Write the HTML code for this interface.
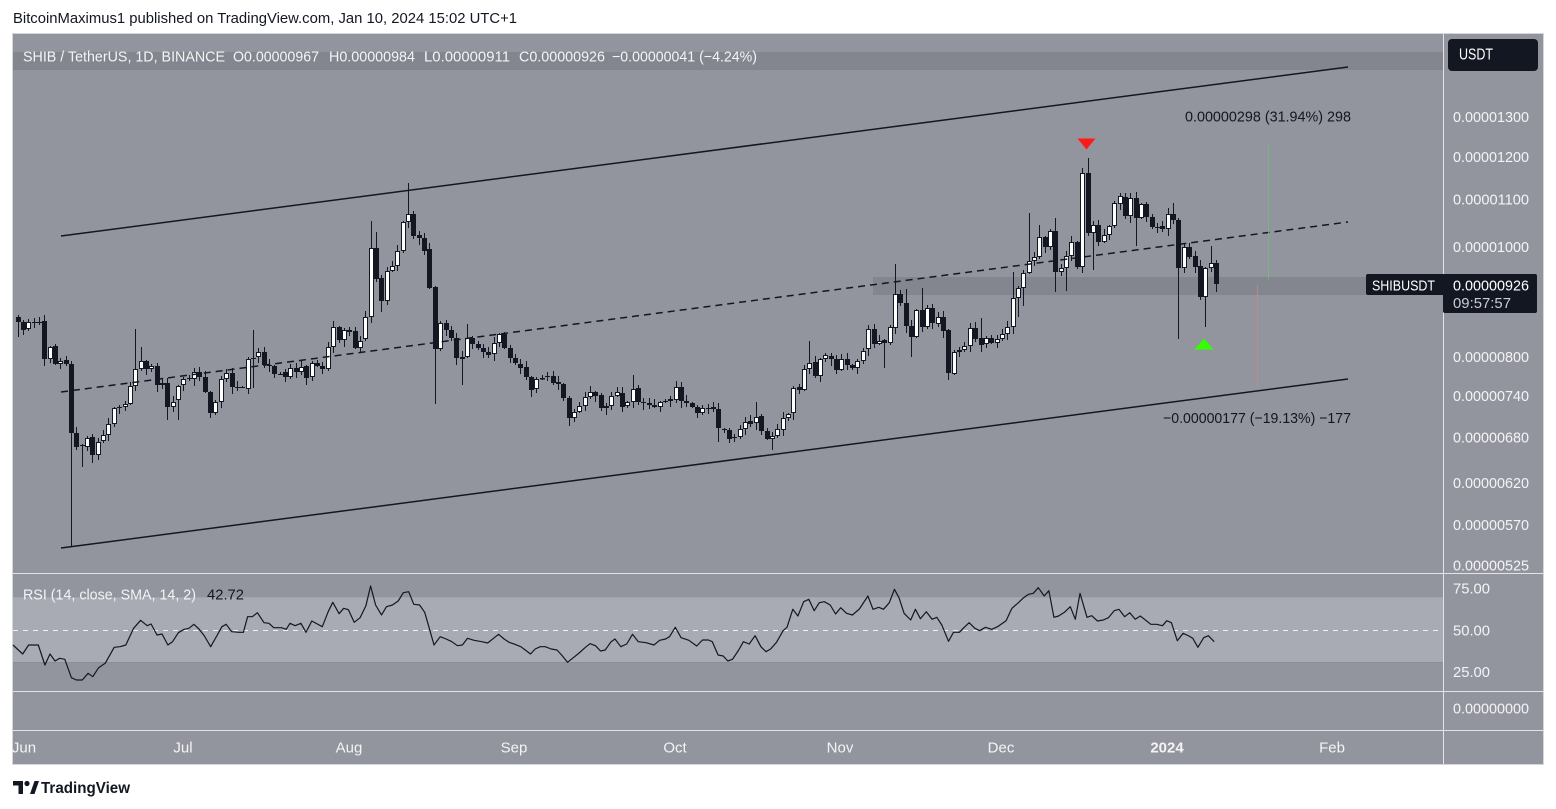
<!DOCTYPE html>
<html><head><meta charset="utf-8">
<style>
html,body{margin:0;padding:0;background:#ffffff;}
svg{display:block;}
text{font-family:"Liberation Sans",sans-serif;}
</style></head><body>
<svg id="s" width="1556" height="809" viewBox="0 0 1556 809" xmlns="http://www.w3.org/2000/svg">
<text x="13" y="23" font-size="14.5" fill="#131722" textLength="504" lengthAdjust="spacingAndGlyphs">BitcoinMaximus1 published on TradingView.com, Jan 10, 2024 15:02 UTC+1</text>
<rect x="12.5" y="33.5" width="1531" height="731" fill="#93959e" stroke="#d6d7dd"/>
<rect x="13" y="52" width="1430" height="18" fill="#84868f"/>
<rect x="873" y="277" width="570" height="18" fill="#84868f"/>
<rect x="13" y="597" width="1430" height="66" fill="#a9abb4"/>
<line x1="13" y1="597.5" x2="1443" y2="597.5" stroke="#a2a4ad"/>
<line x1="13" y1="662.5" x2="1443" y2="662.5" stroke="#8c8e97"/>
<line x1="13" y1="630.5" x2="1443" y2="630.5" stroke="#f0f1f4" stroke-dasharray="5 5"/>
<line x1="1443.5" y1="34" x2="1443.5" y2="764" stroke="#e3e4e8"/>
<line x1="13" y1="573.5" x2="1543" y2="573.5" stroke="#e3e4e8"/>
<line x1="13" y1="691.5" x2="1543" y2="691.5" stroke="#e3e4e8"/>
<line x1="13" y1="730.5" x2="1543" y2="730.5" stroke="#e3e4e8"/>

<g id="candles"></g>

<line x1="61" y1="236" x2="1348" y2="67" stroke="#131722" stroke-width="1.5"/>
<line x1="61" y1="392" x2="1348" y2="222" stroke="#131722" stroke-width="1.5" stroke-dasharray="7 5"/>
<line x1="61" y1="548" x2="1348" y2="379" stroke="#131722" stroke-width="1.5"/>
<line x1="1268.5" y1="145" x2="1268.5" y2="280" stroke="#6fbf73" stroke-width="0.8"/>
<line x1="1257.5" y1="285" x2="1257.5" y2="387" stroke="#c98a8a" stroke-width="0.8"/>
<polygon points="1077.5,138.5 1095.5,138.5 1086.5,149.5" fill="#ff1a1a"/>
<polygon points="1194.5,349.5 1213.5,349.5 1204,338.5" fill="#33ff00"/>
<text x="1185" y="121.5" font-size="15" fill="#131722" textLength="166" lengthAdjust="spacingAndGlyphs">0.00000298 (31.94%) 298</text>
<text x="1163" y="423" font-size="15" fill="#131722" textLength="188" lengthAdjust="spacingAndGlyphs">−0.00000177 (−19.13%) −177</text>

<polyline id="rsi" fill="none" stroke="#131722" stroke-width="1.2" stroke-linejoin="round" points=""/>

<g fill="#f4f4f6" font-size="15">
<text x="23" y="61.5" textLength="202" lengthAdjust="spacingAndGlyphs">SHIB / TetherUS, 1D, BINANCE</text>
<text x="233" y="61.5" textLength="86" lengthAdjust="spacingAndGlyphs">O0.00000967</text>
<text x="329" y="61.5" textLength="86" lengthAdjust="spacingAndGlyphs">H0.00000984</text>
<text x="424" y="61.5" textLength="86" lengthAdjust="spacingAndGlyphs">L0.00000911</text>
<text x="519" y="61.5" textLength="86" lengthAdjust="spacingAndGlyphs">C0.00000926</text>
<text x="612" y="61.5" textLength="145" lengthAdjust="spacingAndGlyphs">−0.00000041 (−4.24%)</text>
<text x="23" y="599.5" textLength="173" lengthAdjust="spacingAndGlyphs">RSI (14, close, SMA, 14, 2)</text>
</g>
<text x="207" y="599.5" font-size="15" fill="#131722" textLength="37" lengthAdjust="spacingAndGlyphs">42.72</text>

<rect x="1448" y="39" width="90" height="32" rx="4" fill="#131722"/>
<text x="1459" y="59.5" font-size="15.5" fill="#ffffff" textLength="34" lengthAdjust="spacingAndGlyphs">USDT</text>

<g fill="#f4f4f6" font-size="15">
<text x="1453" y="122" textLength="76" lengthAdjust="spacingAndGlyphs">0.00001300</text>
<text x="1453" y="162" textLength="76" lengthAdjust="spacingAndGlyphs">0.00001200</text>
<text x="1453" y="204.5" textLength="76" lengthAdjust="spacingAndGlyphs">0.00001100</text>
<text x="1453" y="252" textLength="76" lengthAdjust="spacingAndGlyphs">0.00001000</text>
<text x="1453" y="362" textLength="76" lengthAdjust="spacingAndGlyphs">0.00000800</text>
<text x="1453" y="401" textLength="76" lengthAdjust="spacingAndGlyphs">0.00000740</text>
<text x="1453" y="442.5" textLength="76" lengthAdjust="spacingAndGlyphs">0.00000680</text>
<text x="1453" y="488" textLength="76" lengthAdjust="spacingAndGlyphs">0.00000620</text>
<text x="1453" y="530" textLength="76" lengthAdjust="spacingAndGlyphs">0.00000570</text>
<text x="1453" y="570.5" textLength="76" lengthAdjust="spacingAndGlyphs">0.00000525</text>
<text x="1453" y="593.5" textLength="37" lengthAdjust="spacingAndGlyphs">75.00</text>
<text x="1453" y="635.5" textLength="37" lengthAdjust="spacingAndGlyphs">50.00</text>
<text x="1453" y="677" textLength="37" lengthAdjust="spacingAndGlyphs">25.00</text>
<text x="1453" y="713.5" textLength="76" lengthAdjust="spacingAndGlyphs">0.00000000</text>
</g>

<rect x="1366" y="274" width="80" height="21" rx="2" fill="#131722"/>
<rect x="1443" y="274" width="94" height="39" rx="2" fill="#131722"/>
<text x="1372" y="290.5" font-size="15" fill="#ffffff" textLength="63" lengthAdjust="spacingAndGlyphs">SHIBUSDT</text>
<text x="1453" y="290.5" font-size="15" fill="#ffffff" textLength="76" lengthAdjust="spacingAndGlyphs">0.00000926</text>
<text x="1453" y="308" font-size="15" fill="#c9ccd4" textLength="58" lengthAdjust="spacingAndGlyphs">09:57:57</text>

<g fill="#f4f4f6" font-size="15" text-anchor="middle">
<text x="24" y="752.5">Jun</text>
<text x="183" y="752.5">Jul</text>
<text x="349" y="752.5">Aug</text>
<text x="514" y="752.5">Sep</text>
<text x="675" y="752.5">Oct</text>
<text x="840" y="752.5">Nov</text>
<text x="1001" y="752.5">Dec</text>
<text x="1167" y="752.5" font-weight="bold">2024</text>
<text x="1332" y="752.5">Feb</text>
</g>

<g fill="#131722">
<path d="M13 781h10v13h-4.5v-8.5h-5.5z"/>
<circle cx="27" cy="783.5" r="2.6"/>
<path d="M30 794l4.5-13h4.5l-4.5 13z"/>
</g>
<text x="41" y="793" font-size="16" font-weight="bold" fill="#131722" textLength="89" lengthAdjust="spacingAndGlyphs">TradingView</text>
</svg>
<script>
(function(){
var D=[317,322,322,330,329,322,322,322,322,322,321,359,359,347,346,364,364,361,360,364,
364,433,433,447,445,445,447,438,437,455,455,442,441,435,435,424,424,408,407,407,
407,404,404,386,386,369,369,361,361,369,369,366,366,385,385,383,383,407,407,402,
400,386,385,379,378,378,379,372,372,377,377,392,392,413,413,402,402,379,379,373,
373,387,387,387,387,387,389,359,358,358,357,352,352,365,365,365,366,374,374,374,
372,377,377,368,368,372,372,367,366,378,377,363,363,366,366,369,369,347,347,327,
327,340,340,330,330,332,331,348,348,341,339,317,317,248,248,279,278,301,301,271,
271,266,266,251,251,222,222,214,214,236,235,238,238,251,249,288,287,349,349,323,
323,330,330,338,338,358,359,357,357,338,338,344,344,348,348,352,352,355,354,343,
343,334,334,348,348,358,358,363,364,368,367,377,377,390,389,379,379,378,376,376,
376,383,382,384,384,398,398,418,418,412,412,406,406,397,397,392,392,396,395,408,
408,406,406,396,396,392,393,407,406,402,402,389,388,402,402,403,403,405,405,407,
407,402,401,401,401,399,400,387,387,401,401,403,403,407,407,413,413,408,408,408,
407,409,409,428,429,429,430,439,437,437,437,429,429,422,421,424,423,417,416,431,
431,439,439,436,436,429,430,418,418,414,413,388,387,390,390,369,369,363,362,376,
376,359,359,355,356,359,359,370,370,359,359,365,365,368,368,361,361,351,349,329,
329,344,344,341,340,343,343,327,328,294,294,303,303,326,326,337,337,310,310,327,
327,308,308,323,324,317,317,331,330,373,374,352,350,352,350,346,346,328,328,339,
338,345,344,338,338,343,343,339,339,334,334,327,327,298,298,288,288,273,273,261,
261,257,257,237,237,247,247,231,231,272,272,268,268,256,256,242,242,267,267,173,
173,233,233,225,225,242,242,235,235,226,226,203,204,196,197,216,216,198,198,218,
218,204,204,217,217,227,227,227,226,229,229,214,214,220,220,268,268,247,247,257,
256,267,266,297,297,268,268,263,263,284];
var O={0:[315,337],10:[361,547],12:[null,467],14:[null,463],22:[329,null],23:[347,null],
28:[null,420],30:[null,420],44:[330,388],66:[221,null],67:[232,null],68:[null,312],
73:[183,null],78:[null,404],83:[null,385],84:[324,null],103:[null,426],115:[375,null],
123:[381,null],131:[null,442],133:[null,443],138:[402,null],141:[null,450],148:[341,null],
162:[null,368],164:[264,null],166:[289,null],167:[null,357],169:[288,null],174:[null,380],
180:[318,null],186:[272,334],187:[null,317],188:[null,306],189:[213,null],191:[225,null],
194:[218,292],196:[null,291],199:[168,null],200:[158,null],201:[null,270],209:[null,246],
216:[203,null],217:[null,339],222:[null,327],223:[246,null],224:[null,292]};
var n=D.length/2, x0=17.5, step=(1215.9-17.5)/(n-1);
var wick='', dark='', white='';
for(var i=0;i<n;i++){
  var o=D[2*i], c=D[2*i+1];
  var x=x0+i*step;
  var top=Math.min(o,c), bot=Math.max(o,c);
  var hi=top-(1+(i*37)%6), lo=bot+(1+(i*53)%7);
  if(O[i]){ if(O[i][0]!=null) hi=O[i][0]; if(O[i][1]!=null) lo=O[i][1]; }
  var xr=Math.round(x)+0.5;
  wick+='M'+xr+' '+hi+'V'+lo;
  var h=Math.max(bot-top,1);
  if(c<o){
    white+='<rect x="'+(xr-2)+'" y="'+(top+0.5)+'" width="4" height="'+Math.max(h-1,0.5)+'"/>';
  } else {
    dark+='M'+(xr-2.5)+' '+top+'h5v'+h+'h-5z';
  }
}
document.getElementById('candles').innerHTML=
 '<path d="'+wick+'" stroke="#131722" stroke-width="1" fill="none"/>'+
 '<path d="'+dark+'" fill="#131722"/>'+
 '<g fill="#ffffff" stroke="#131722" stroke-width="1">'+white+'</g>';

var R1=[0,210,25,237,40,210,65,210,82,270,95,237,108,258,120,250,133,253,150,308,163,315,178,315,193,295,205,305,220,278,237,265,260,217,275,215,290,210,310,160,328,136,345,152,355,147,370,180,383,177,398,210,410,200,425,173,440,163,452,160,465,148,478,162,492,183,508,215,525,180,537,155,548,148,562,170,580,172,592,172,603,125,615,125,628,113,645,143,658,145,670,158,690,158,702,163,712,145,725,152,740,145,753,172,768,138,782,147,795,155,810,110,822,82,838,116,850,100,862,104,877,142,892,128,907,92,919,33,932,90,947,120,960,95,975,90,990,78,1003,53,1017,50,1030,88,1045,90,1058,112,1070,160,1082,210,1098,185,1113,192,1128,200,1142,212,1155,210,1168,190,1185,196,1205,200,1220,204,1235,190,1248,178,1262,192,1275,202,1290,208,1305,215,1320,228,1330,237,1342,222,1355,215,1368,215,1383,222,1398,225,1410,240,1425,262,1440,248,1455,234,1470,218,1483,206,1497,212,1510,228,1522,225,1537,200];
var R2=[0,192,15,215,30,207,45,178,60,200,80,203,100,210,115,196,130,192,140,185,155,157,170,188,190,196,210,213,225,195,240,195,250,200,265,240,278,243,290,258,302,253,318,225,330,200,345,207,360,182,375,215,388,230,400,222,415,202,432,167,442,157,457,103,470,123,485,80,498,73,512,107,525,83,538,80,553,90,567,117,580,98,595,115,610,120,628,102,650,63,663,103,678,97,690,103,705,83,718,43,730,68,743,115,760,135,772,103,785,131,800,110,815,133,827,127,840,150,857,199,870,172,885,172,895,160,910,143,925,160,937,167,952,157,968,163,983,155,1005,137,1020,100,1035,85,1050,68,1063,58,1075,55,1088,38,1103,63,1115,47,1128,127,1140,123,1155,112,1170,95,1183,133,1195,55,1213,127,1225,122,1240,138,1255,135,1268,128,1283,107,1295,103,1310,125,1323,113,1337,133,1350,123,1363,135,1377,148,1392,148,1407,152,1418,137,1430,143,1445,197,1460,175,1475,183,1485,190,1498,217,1513,188,1525,182,1540,200];
var pts=[];
for(var k=0;k<R1.length;k+=2) pts.push((13+R1[k]/2.57).toFixed(1)+','+(575+R1[k+1]/3).toFixed(1));
for(var k=0;k<R2.length;k+=2) pts.push((615+R2[k]/2.57).toFixed(1)+','+(575+R2[k+1]/3).toFixed(1));
document.getElementById('rsi').setAttribute('points',pts.join(' '));
})();
</script>
</body></html>
